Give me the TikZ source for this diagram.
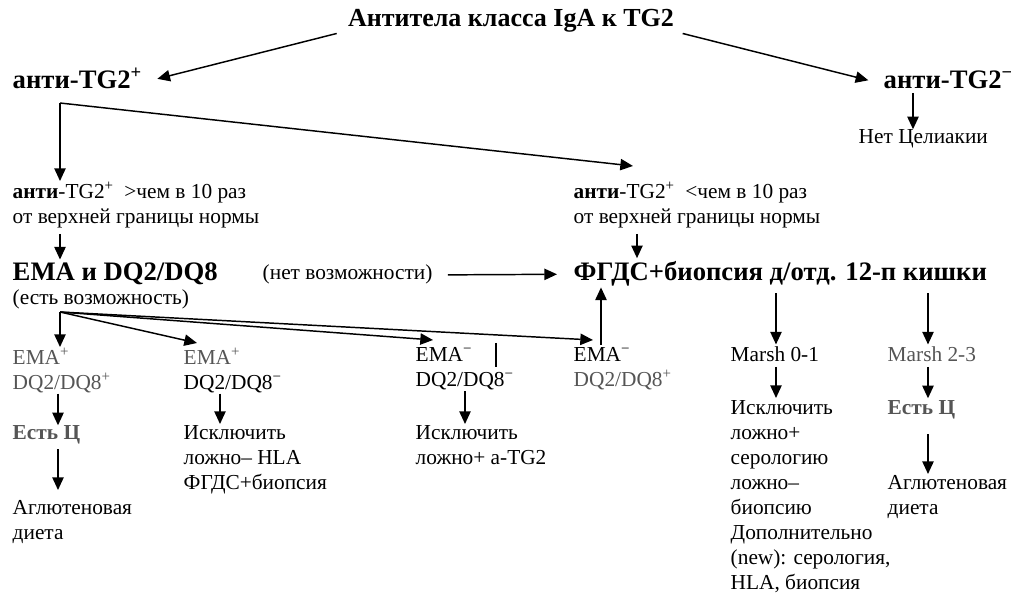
\documentclass[tikz,border=0pt]{standalone}
\usepackage{fontspec}
\setmainfont{Liberation Serif}
\usepackage{xcolor}
\usetikzlibrary{positioning,arrows.meta,calc}
\definecolor{greytext}{RGB}{85,85,85}

\begin{document}
\begin{tikzpicture}[x=0.75pt, y=-0.75pt, >={Triangle[length=9.5pt,width=8.5pt]}, line width=1.1pt]

% Define text styles
\tikzstyle{txt} = [inner sep=0pt, align=left, font=\fontsize{16}{18.75}\selectfont]
\tikzstyle{head} = [inner sep=0pt, font=\bfseries\fontsize{20}{24}\selectfont]
\tikzstyle{grey} = [text=greytext]

\useasboundingbox (0,0) rectangle (1011,595);

% Nodes
\node [head, anchor=base, font=\bfseries\fontsize{19.5}{24}\selectfont] (title) at (511,27) {Антитела класса IgA к TG2};
\node [head, anchor=base west] (antiPos) at (12,89) {анти-TG2\textsuperscript{+}};
\node [head, anchor=base west] (antiNeg) at (883,89) {анти-TG2\textsuperscript{−}};
\node [txt, anchor=base west] (noCel) at (858,144) {Нет Целиакии};

\node [txt, anchor=north west] (high) at (12,181) {\textbf{анти}-TG2\textsuperscript{+}\ \ >чем в 10 раз\\от верхней границы нормы};
\node [txt, anchor=north west] (low) at (573,181) {\textbf{анти}-TG2\textsuperscript{+}\ \ <чем в 10 раз\\от верхней границы нормы};

\node [head, anchor=base west] (ema) at (12,281) {EMA и DQ2/DQ8};
\node [txt, anchor=base west] (yesPoss) at (12,305) {(есть возможность)};
\node [txt, anchor=base west] (noPoss) at (262,280) {(нет возможности)};
\node [head, anchor=base west] (fgds) at (573,281) {ФГДС+биопсия д/отд. 12-п кишки};

\node [txt, grey, anchor=north west] (emaPP) at (12,347) {EMA\textsuperscript{+}\\DQ2/DQ8\textsuperscript{+}};
\node [txt, anchor=north west] (emaPN) at (183,347) {\textcolor{greytext}{EMA\textsuperscript{+}}\\DQ2/DQ8\textsuperscript{−}};
\node [txt, anchor=north west] (emaNN) at (415,347) {EMA\textsuperscript{−}\\DQ2/DQ8\textsuperscript{−}};
\node [txt, anchor=north west] (emaNP) at (573,347) {EMA\textsuperscript{−}\\\textcolor{greytext}{DQ2/DQ8\textsuperscript{+}}};
\node [txt, anchor=base west] (m01) at (730,362) {Marsh 0-1};
\node [txt, grey, anchor=base west] (m23) at (887,362) {Marsh 2-3};

\node [txt, grey, anchor=base west] (estC1) at (12,440) {\textbf{Есть Ц}};
\node [txt, anchor=north west] (excl2) at (183,425) {Исключить\\ложно– HLA\\ФГДС+биопсия};
\node [txt, anchor=north west] (excl3) at (415,425) {Исключить\\ложно+ а-TG2};
\node [txt, anchor=north west] (agl1) at (12,500) {Аглютеновая\\диета};

\node [txt, anchor=north west] (excl5) at (730,400) {Исключить\\ложно+\\серологию\\ложно–\\биопсию\\Дополнительно\\(new): серология,\\HLA, биопсия};
\node [txt, grey, anchor=base west] (estC2) at (887,415) {\textbf{Есть Ц}};
\node [txt, anchor=north west] (agl2) at (887,475) {Аглютеновая\\диета};

\coordinate (split) at (60,103);
\coordinate (fan) at (60,312);

% Connections
\draw [->] ([xshift=-8pt]title.south west) -- ([xshift=11pt]antiPos.east);
\draw [->] ([xshift=6pt]title.south east) -- ([xshift=-11pt]antiNeg.west);
\draw [->] ([shift={(30,3)}]antiNeg.south west) -- ([shift={(55,0)}]noCel.north west);

\draw [->] (split) -- (split |- high.north);
\draw [->] (split) -- ([shift={(60,-15)}]low.north west);
\draw [->] ([shift={(48,5)}]high.south west) -- ([shift={(48,-3)}]ema.north west);
\draw [->] ([shift={(64,5)}]low.south west) -- ([shift={(64,-3)}]fgds.north west);
\draw [->] ([xshift=11pt]noPoss.east) -- ([xshift=-12pt]fgds.west);

\draw [->] (fan) -- (fan |- emaPP.north);
\draw [->] (fan) -- ([shift={(14,-4)}]emaPN.north west);
\draw [->] (fan) -- ([shift={(18,-7)}]emaNN.north west);
\draw [->] (fan) -- ([shift={(20,-7)}]emaNP.north west);
\draw [->] ([shift={(28,-2)}]emaNP.north west) -- ([shift={(28,0)}]emaNP.north west |- fgds.south);
\draw ([shift={(81,-4)}]emaNN.north west) -- ++(0,24);

\draw [->] ([shift={(46,0)}]emaPP.south west) -- ([shift={(46,0)}]estC1.north west);
\draw [->] ([shift={(46,4)}]estC1.south west) -- ([shift={(46,-10)}]agl1.north west);
\draw [->] ([shift={(37,0)}]emaPN.south west) -- ([shift={(37,-1)}]excl2.north west);
\draw [->] ([shift={(50,0)}]emaNN.south west) -- ([shift={(50,-1)}]excl3.north west);

\draw [->] ([shift={(46,6)}]fgds.south west -| m01.west) -- ([shift={(46,-2)}]m01.north west);
\draw [->] ([shift={(41,6)}]fgds.south west -| m23.west) -- ([shift={(41,-2)}]m23.north west);
\draw [->] ([shift={(46,4)}]m01.south west) -- ([shift={(46,-2)}]excl5.north west);
\draw [->] ([shift={(41,4)}]m23.south west) -- ([shift={(41,-2)}]estC2.north west);
\draw [->] ([shift={(41,14)}]estC2.south west) -- ([shift={(41,-1)}]agl2.north west);

\end{tikzpicture}
\end{document}
